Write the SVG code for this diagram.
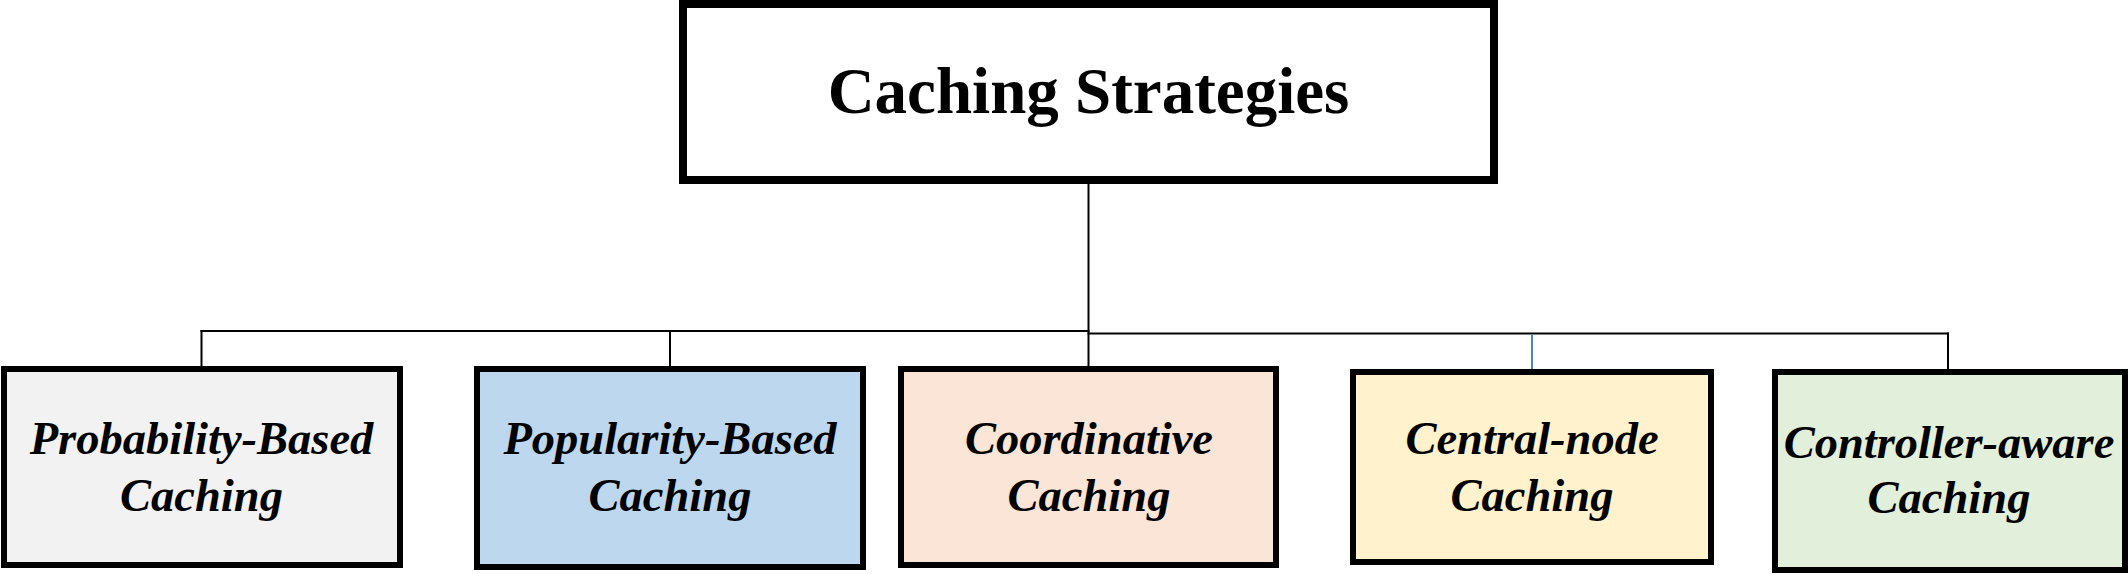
<svg xmlns="http://www.w3.org/2000/svg" width="2128" height="574" viewBox="0 0 2128 574">
  <style>
    .box { stroke: #000; stroke-width: 6; }
    .root { fill: #fff; stroke: #000; stroke-width: 8; }
    .lbl { font-family: "Liberation Serif", "Times New Roman", serif; font-weight: bold; font-style: italic; font-size: 46.5px; fill: #000; text-anchor: middle; }
    .title { font-family: "Liberation Serif", "Times New Roman", serif; font-weight: bold; font-size: 65px; fill: #000; text-anchor: middle; }
    .conn { stroke: #000; stroke-width: 2; fill: none; }
    .conn-blue { stroke: #4f81bd; stroke-width: 2; fill: none; }
  </style>
  <rect width="2128" height="574" fill="#fff"/>
  <g id="connectors">
    <line class="conn" x1="1088.5" y1="184" x2="1088.5" y2="366"/>
    <line class="conn" x1="200.5" y1="331" x2="1089.5" y2="331"/>
    <line class="conn" x1="1087.5" y1="333.5" x2="1949" y2="333.5"/>
    <line class="conn" x1="201.5" y1="330" x2="201.5" y2="366"/>
    <line class="conn" x1="670" y1="330" x2="670" y2="366"/>
    <line class="conn-blue" x1="1532" y1="334.5" x2="1532" y2="369"/>
    <line class="conn" x1="1948" y1="332.5" x2="1948" y2="369"/>
  </g>
  <g id="root">
    <rect class="root" x="683" y="4" width="811" height="176"/>
    <text class="title" x="1088.5" y="113">Caching Strategies</text>
  </g>
  <g id="probability">
    <rect class="box" x="4" y="369" width="396" height="196" fill="#f2f2f2"/>
    <text class="lbl" x="201.5" y="454">Probability-Based</text>
    <text class="lbl" x="201.5" y="511">Caching</text>
  </g>
  <g id="popularity">
    <rect class="box" x="477" y="369" width="386" height="198" fill="#bdd7ee"/>
    <text class="lbl" x="670" y="454">Popularity-Based</text>
    <text class="lbl" x="670" y="511">Caching</text>
  </g>
  <g id="coordinative">
    <rect class="box" x="901" y="369" width="375" height="196" fill="#fbe5d6"/>
    <text class="lbl" x="1089" y="454">Coordinative</text>
    <text class="lbl" x="1089" y="511">Caching</text>
  </g>
  <g id="central">
    <rect class="box" x="1353" y="372" width="358" height="190" fill="#fff2cc"/>
    <text class="lbl" x="1532" y="454">Central-node</text>
    <text class="lbl" x="1532" y="511">Caching</text>
  </g>
  <g id="controller">
    <rect class="box" x="1775" y="372" width="350" height="198" fill="#e2efda"/>
    <text class="lbl" x="1949" y="458">Controller-aware</text>
    <text class="lbl" x="1949" y="513">Caching</text>
  </g>
</svg>
